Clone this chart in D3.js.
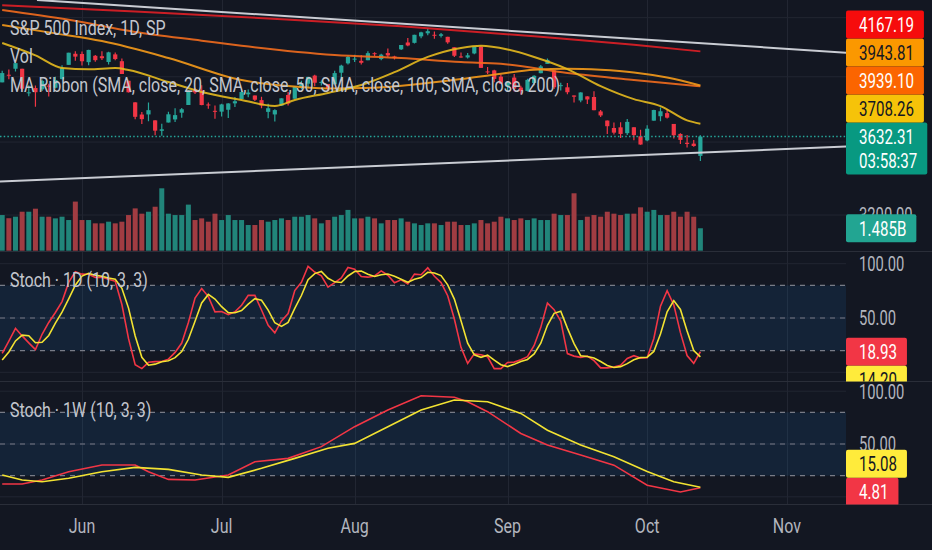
<!DOCTYPE html>
<html><head><meta charset="utf-8">
<script src="https://cdn.jsdelivr.net/npm/d3@7"></script>
<style>html,body{margin:0;padding:0;background:#131722;overflow:hidden}svg{display:block}</style>
</head><body>
<svg id="c" width="932" height="550"></svg>
<script>
// ---------------- DATA (S&P 500, daily, 2022-05-13 .. 2022-10-13) ----------------
const open = [3963.90,4013.02,4052.00,4051.98,3899.00,3927.76,3919.42,3942.94,3929.59,3984.60,
4077.43,4151.09,4149.78,4095.41,4137.57,4134.72,4096.47,4147.12,4101.65,3974.39,
3838.15,3763.52,3764.05,3728.18,3665.90,3715.31,3733.89,3774.71,3821.75,3920.76,
3913.00,3825.09,3785.99,3781.00,3792.61,3831.98,3858.85,3888.26,3880.94,3851.95,
3779.67,3763.99,3818.00,3883.79,3860.73,3935.32,3955.47,4007.59,3965.72,3953.22,
3951.43,4026.13,4087.33,4112.38,4104.21,4107.96,4154.85,4115.87,4155.93,4133.11,
4181.02,4227.40,4225.02,4269.37,4290.46,4280.40,4273.13,4266.31,4195.08,4133.09,
4126.55,4153.26,4198.74,4034.58,4041.25,4000.67,3936.73,3994.66,3930.89,3909.43,
3959.94,4022.94,4083.67,4041.47,3940.73,3932.41,3880.95,3849.91,3875.23,3871.40,
3782.36,3727.14,3682.72,3686.44,3651.94,3687.01,3633.48,3609.78,3726.46,3753.25,
3771.97,3706.74,3647.51,3595.86,3590.83,3520.37];
const high = [4038.88,4046.46,4090.72,4051.98,3945.96,3943.42,3981.88,3955.68,3999.33,4075.14,
4158.49,4168.34,4166.54,4177.51,4142.67,4168.78,4164.86,4160.14,4119.10,3974.39,
3838.15,3778.18,3837.56,3728.18,3707.71,3779.65,3801.79,3802.58,3913.65,3927.72,
3945.86,3836.50,3818.99,3829.82,3832.19,3870.91,3910.63,3918.50,3880.94,3873.41,
3829.44,3796.41,3863.62,3902.44,3939.81,3974.13,3999.29,4012.44,3975.30,3953.22,
4039.56,4078.95,4140.15,4144.95,4140.47,4167.66,4161.29,4151.58,4186.62,4137.30,
4211.03,4257.91,4280.47,4301.79,4325.28,4302.18,4292.53,4266.31,4195.08,4159.77,
4156.56,4200.54,4203.04,4062.99,4044.98,4015.37,3970.23,4018.43,3942.55,3987.89,
4010.50,4076.81,4119.28,4041.47,3961.94,3959.14,3880.95,3900.45,3876.01,3907.07,
3790.68,3727.14,3715.67,3717.53,3736.74,3687.01,3671.44,3698.35,3791.92,3806.91,
3797.93,3706.74,3652.17,3640.66,3611.34,3640.00];
const low = [3963.90,3983.99,4033.93,3911.91,3876.58,3810.32,3909.04,3875.13,3925.03,3984.60,
4077.43,4104.88,4073.85,4074.37,4098.67,4109.18,4080.19,4107.20,4017.17,3900.16,
3734.30,3705.68,3722.30,3639.77,3636.87,3715.31,3717.69,3743.52,3821.75,3889.66,
3820.14,3799.02,3738.67,3752.10,3742.06,3809.37,3858.85,3869.34,3847.22,3802.36,
3741.25,3721.56,3817.18,3818.63,3860.73,3922.03,3927.64,3938.85,3943.46,3910.74,
3951.43,3992.97,4079.22,4096.02,4079.81,4107.96,4135.42,4107.31,4128.97,4112.09,
4177.26,4201.41,4219.78,4256.90,4277.77,4253.08,4261.98,4218.70,4129.86,4124.03,
4119.97,4147.59,4057.66,4017.42,3965.21,3954.53,3903.65,3906.21,3886.75,3906.03,
3944.81,4022.94,4083.67,3921.73,3912.09,3888.28,3837.08,3838.50,3827.54,3789.49,
3749.14,3647.47,3644.76,3623.29,3640.61,3610.40,3584.13,3604.93,3726.46,3722.66,
3739.22,3620.73,3588.10,3568.45,3573.25,3491.58];
const close = [4023.89,4008.01,4088.85,3923.68,3900.79,3901.36,3973.75,3941.48,3978.73,4057.84,
4158.24,4132.15,4101.23,4176.82,4108.54,4121.43,4160.68,4115.77,4017.82,3900.86,
3749.63,3735.48,3789.99,3666.77,3674.84,3764.79,3759.89,3795.73,3911.74,3900.11,
3821.55,3818.83,3785.38,3825.33,3831.39,3845.08,3902.62,3899.38,3854.43,3818.80,
3801.78,3790.38,3863.16,3830.85,3936.69,3959.90,3998.95,3961.63,3966.84,3921.05,
4023.61,4072.43,4130.29,4118.63,4091.19,4155.17,4151.94,4145.19,4140.06,4122.47,
4210.24,4207.27,4280.15,4297.14,4305.20,4274.04,4283.74,4228.48,4137.99,4128.73,
4140.77,4199.12,4057.66,4030.61,3986.16,3955.00,3966.85,3924.26,3908.19,3979.87,
4006.18,4067.36,4110.41,3932.69,3946.01,3901.35,3873.33,3899.89,3855.93,3789.93,
3757.99,3693.23,3655.04,3647.29,3719.04,3640.47,3585.62,3678.43,3790.93,3783.28,
3744.52,3639.66,3612.39,3588.84,3577.03,3632.31];
// volume, billions
const volume = [2.36,2.15,2.25,2.58,2.58,2.78,2.25,2.25,2.14,2.25,
2.03,3.25,2.03,2.03,1.81,1.81,1.92,1.81,1.92,2.36,
2.80,2.45,2.58,2.91,4.13,2.45,2.36,2.36,3.05,2.03,
2.14,1.92,2.45,2.03,2.36,2.03,2.03,1.70,1.70,2.03,
1.92,2.03,2.14,2.03,2.25,2.25,2.36,2.14,1.81,2.03,
2.25,2.36,2.70,2.14,2.14,2.25,2.14,1.81,2.03,2.03,
2.14,1.92,1.81,1.70,1.81,1.81,1.70,1.92,1.92,1.70,
1.70,1.81,2.03,1.81,1.92,2.25,2.14,2.03,2.14,2.03,
2.14,2.03,2.03,2.45,2.36,2.36,3.80,2.03,2.25,2.36,
2.25,2.58,2.45,2.36,2.45,2.45,2.87,2.58,2.70,2.36,
2.36,2.58,2.25,2.58,2.25,1.485];
// MA Ribbon, [bar index, value]
const ma20 = [[0,4224],[5,4140],[9,4057],[13,4048],[17,4057],[19,4044],[25,3966],[30,3903],[36,3853],[41,3816],[44,3853],[49,3897],[54,3947],[59,4030],[64,4130],[69,4190],[72,4205],[76,4180],[80,4130],[85,4050],[90,3940],[95,3858],[99,3815],[103,3728],[105,3708.26]];
const ma50 = [[0,4348],[8,4290],[15,4237],[25,4123],[36,3979],[43,3940],[49,3925],[56,3930],[63,3955],[69,3985],[75,4020],[80,4045],[85,4052],[90,4045],[95,4028],[100,3995],[105,3943.81]];
const ma100 = [[0,4455],[10,4385],[20,4300],[30,4240],[36,4205],[50,4143],[60,4123],[69,4096],[75,4085],[85,4024],[95,3979],[105,3939.10]];
const ma200 = [[0,4490],[20,4445],[40,4395],[60,4340],[80,4270],[95,4212],[105,4167.19]];
// Stoch 1D (10,3,3) per bar
const stochK = [17.5,28.7,40.5,33.5,27.1,20.9,35.0,45.9,55.1,65.1,
82.8,92.7,90.4,90.3,87.4,87.5,85.7,83.8,62.4,31.0,
7.0,3.4,9.2,9.8,10.0,12.1,18.3,26.9,45.9,68.3,
77.2,69.7,55.6,56.0,53.1,55.7,61.7,70.8,70.9,57.4,
43.2,36.3,47.3,54.1,75.3,82.8,97.6,92.3,88.9,78.5,
82.6,87.0,96.5,95.0,88.2,87.6,88.7,93.4,89.4,82.4,
85.1,81.3,90.4,89.8,96.2,88.4,82.6,70.5,49.1,23.0,
8.2,17.0,16.2,14.3,3.4,3.4,9.0,9.4,11.6,14.4,
24.7,41.4,63.7,57.7,47.2,17.2,14.9,13.8,14.9,10.7,
4.1,4.1,4.9,6.5,12.7,15.3,13.1,13.4,31.2,60.9,
75.1,62.1,36.5,15.4,8.3,18.93];
const stochD = [11.3,18.7,28.9,34.2,33.7,27.2,27.7,33.9,45.3,55.4,
67.7,80.2,88.6,91.1,89.4,88.4,86.9,85.7,77.3,59.1,
33.5,13.8,6.5,7.5,9.7,10.6,13.5,19.1,30.4,47.0,
63.8,71.7,67.5,60.4,54.9,54.9,56.8,62.7,67.8,66.4,
57.2,45.6,42.3,45.9,58.9,70.7,85.2,90.9,92.9,86.6,
83.3,82.7,88.7,92.8,93.2,90.3,88.2,89.9,90.5,88.4,
85.6,82.9,85.6,87.2,92.1,91.5,89.1,80.5,67.4,47.5,
26.8,16.1,13.8,15.8,11.3,7.0,5.3,7.3,10.0,11.8,
16.9,26.8,43.3,54.3,56.2,40.7,26.4,15.3,14.5,13.1,
9.9,6.3,4.4,5.2,8.0,11.5,13.7,13.9,19.2,35.2,
55.7,66.0,57.9,38.0,20.1,14.20];
// Stoch 1W (10,3,3) as plotted on the daily bars, [bar index, value]
const weekK = [[0,12.1],[3,12.1],[6,15.9],[10,23.8],[15,30.1],[20,30.1],[22,23.8],[25,16.5],[29,15.9],[34,20.6],[38,33.2],[43,36.4],[48,47.5],[53,66.4],[58,82.2],[63,95.7],[68,94.2],[70,90],[73,80.6],[78,60],[82,49],[87,39.5],[92,30],[97,11],[102,4.5],[105,8.5]];
const weekD = [[0,20.6],[3,15.9],[6,14.3],[10,17.5],[15,23.8],[20,27.9],[25,26],[30,20.6],[34,18.4],[39,27],[44,36.4],[49,45.9],[53,50.6],[58,66.4],[63,82.2],[68,91.6],[73,90],[78,79],[82,63],[87,49],[92,38],[97,24],[101,14.3],[105,9]];
const weekLast = [4.81, 15.08]; // %K, %D
// Drawn trendlines, [bar index, price]
const trendTop = [[5.23,4527.6],[126.9,4158.3]];
const trendBottom = [[-0.33,3378],[126.9,3574.3]];
// Axis ticks
const monthLabels = ["Jun","Jul","Aug","Sep","Oct","Nov"];
const monthBar = [12,33,53,76,97,118];
const priceTicks = [3200,3600,4000,4400];
const stochTicks = [0,50,100];
const stochBands = [80,50,20];
const countdown = "03:58:37";

// ---------------- LAYOUT ----------------
const W = 932, H = 550, PR = 846;
const main = [0, 251.5], p1 = [252, 381.5], p2 = [382, 504.5];
const FONT = 'Roboto, "Noto Sans", "DejaVu Sans", sans-serif';
const SXT = 0.8, SXN = 0.72;
const UP = '#26a69a', DN = '#f23645';

const x = d3.scaleLinear().domain([-0.33, 126.9]).range([0, PR]);
const y = d3.scaleLog().domain([3491.58, 4325.28]).range([161, 28.3]);
const yv = d3.scaleLinear().domain([0, 4.13]).range([250.7, 188.3]);
const ys1 = d3.scaleLinear().domain([0, 100]).range([372.3, 263.7]);
const ys2 = d3.scaleLinear().domain([0, 100]).range([496.8, 391.2]);

const svg = d3.select('#c');
svg.append('rect').attr('width', W).attr('height', H).attr('fill', '#131722');
const defs = svg.append('defs');
function clip(id, x0, y0, w, h) {
  defs.append('clipPath').attr('id', id).append('rect').attr('x', x0).attr('y', y0).attr('width', w).attr('height', h);
  return `url(#${id})`;
}
function txt(g, px, py, s, o = {}) {
  return g.append('text')
    .attr('transform', `translate(${px},${py}) scale(${o.sx || SXT},1)`)
    .attr('text-anchor', o.anchor || 'start')
    .attr('dy', o.dy || '0.36em')
    .attr('font-family', FONT)
    .attr('font-size', o.size || 20)
    .attr('fill', o.fill || '#b2b5be')
    .text(s);
}

// grid
const grid = svg.append('g').attr('stroke', '#222632').attr('stroke-width', 1);
monthBar.forEach(b => grid.append('line').attr('x1', Math.round(x(b)) + 0.5).attr('x2', Math.round(x(b)) + 0.5).attr('y1', 0).attr('y2', p2[1]));
const gGridMain = grid.append('g').attr('clip-path', clip('cm0', 0, main[0], PR, main[1] - main[0]));
priceTicks.forEach(t => gGridMain.append('line').attr('x1', 0).attr('x2', PR).attr('y1', y(t)).attr('y2', y(t)));
stochTicks.forEach(t => {
  grid.append('line').attr('x1', 0).attr('x2', PR).attr('y1', ys1(t)).attr('y2', ys1(t));
  grid.append('line').attr('x1', 0).attr('x2', PR).attr('y1', ys2(t)).attr('y2', ys2(t));
});

// pane separators
[main[1], p1[1], p2[1]].forEach(v => svg.append('line').attr('x1', 0).attr('x2', W).attr('y1', v).attr('y2', v).attr('stroke', '#2a2e39').attr('stroke-width', 1));

// ---------------- MAIN PANE ----------------
const gMain = svg.append('g').attr('clip-path', clip('cm', 0, main[0], PR, main[1] - main[0]));
const idx = d3.range(close.length);
const bw = 4.2, vw = 5;
// volume
gMain.append('g').selectAll('rect').data(idx).join('rect')
  .attr('x', i => x(i) - vw / 2).attr('width', vw)
  .attr('y', i => yv(volume[i])).attr('height', i => yv(0) - yv(volume[i]))
  .attr('fill', i => close[i] >= open[i] ? '#21857a' : '#a13c42');
// candles
const gc = gMain.append('g');
gc.selectAll('line').data(idx).join('line')
  .attr('x1', i => x(i)).attr('x2', i => x(i))
  .attr('y1', i => y(high[i])).attr('y2', i => y(low[i]))
  .attr('stroke', i => close[i] >= open[i] ? UP : DN).attr('stroke-width', 1.2);
gc.selectAll('rect').data(idx).join('rect')
  .attr('x', i => x(i) - bw / 2).attr('width', bw)
  .attr('y', i => y(Math.max(open[i], close[i])))
  .attr('height', i => Math.max(1, Math.abs(y(open[i]) - y(close[i]))))
  .attr('fill', i => close[i] >= open[i] ? UP : DN);
// MA ribbon
const maLine = d3.line().x(d => x(d[0])).y(d => y(d[1])).curve(d3.curveMonotoneX);
const maSeries = [[ma200, '#e01f26'], [ma100, '#f26b1d'], [ma50, '#f59a1a'], [ma20, '#e6b91e']];
maSeries.forEach(([d, c]) => gMain.append('path').attr('d', maLine(d)).attr('fill', 'none').attr('stroke', c).attr('stroke-width', 2).attr('stroke-opacity', 0.9));
// trendlines
const tl = d3.line().x(d => x(d[0])).y(d => y(d[1]));
[trendTop, trendBottom].forEach(d => gMain.append('path').attr('d', tl(d)).attr('fill', 'none').attr('stroke', '#c9ccd3').attr('stroke-width', 2));
// price line
const lastP = close[close.length - 1];
gMain.append('line').attr('x1', 0).attr('x2', PR).attr('y1', y(lastP)).attr('y2', y(lastP))
  .attr('stroke', UP).attr('stroke-width', 1.5).attr('stroke-dasharray', '1.5,2.2');
// legend
const gLeg = svg.append('g');
txt(gLeg, 10, 28, 'S&P 500 Index, 1D, SP', { fill: '#c3c6ce' });
txt(gLeg, 10, 56, 'Vol', { fill: '#c3c6ce' });
txt(gLeg, 10, 84.5, 'MA Ribbon (SMA, close, 20, SMA, close, 50, SMA, close, 100, SMA, close, 200)', { fill: '#c3c6ce' });

// ---------------- STOCH PANES ----------------
function stochPane(id, pane, ys, kData, dData, title, perBar) {
  const g = svg.append('g').attr('clip-path', clip(id, 0, pane[0], PR, pane[1] - pane[0]));
  g.append('rect').attr('x', 0).attr('width', PR).attr('y', ys(80)).attr('height', ys(20) - ys(80)).attr('fill', 'rgba(33,150,243,0.1)');
  stochBands.forEach(b => g.append('line').attr('x1', 0).attr('x2', PR).attr('y1', ys(b)).attr('y2', ys(b))
    .attr('stroke', '#787b86').attr('stroke-width', 1.2).attr('stroke-dasharray', '5,5'));
  const ln = perBar ? d3.line().x((d, i) => x(i)).y(d => ys(d)) : d3.line().x(d => x(d[0])).y(d => ys(d[1]));
  g.append('path').attr('d', ln(kData)).attr('fill', 'none').attr('stroke', '#f23645').attr('stroke-width', 1.6);
  g.append('path').attr('d', ln(dData)).attr('fill', 'none').attr('stroke', '#f2e232').attr('stroke-width', 1.6);
  txt(svg, 10, pane[0] + 28, title, { fill: '#c3c6ce' });
}
stochPane('cs1', p1, ys1, stochK, stochD, 'Stoch · 1D (10, 3, 3)', true);
stochPane('cs2', p2, ys2, weekK, weekD, 'Stoch · 1W (10, 3, 3)', false);

// ---------------- TIME AXIS ----------------
monthLabels.forEach((m, i) => txt(svg, x(monthBar[i]), 526, m, { anchor: 'middle', fill: '#b2b5be' }));

// ---------------- PRICE SCALE ----------------
const gAx = svg.append('g');
const axMain = gAx.append('g').attr('clip-path', clip('am', PR, main[0], W - PR, main[1] - main[0]));
const ax1 = gAx.append('g').attr('clip-path', clip('a1', PR, p1[0], W - PR, p1[1] - p1[0]));
const ax2 = gAx.append('g').attr('clip-path', clip('a2', PR, p2[0], W - PR, p2[1] - p2[0]));

function placeLabels(items, anchor) {
  items.forEach(d => d.top = d.y - d.off);
  const a = items[anchor];
  let lim = a.top;
  items.filter((d, i) => i !== anchor && d.y < a.y).sort((p, q) => q.y - p.y)
    .forEach(d => { if (d.top + d.h > lim) d.top = lim - d.h; lim = d.top; });
  lim = a.top + a.h;
  items.filter((d, i) => i !== anchor && d.y >= a.y).sort((p, q) => p.y - q.y)
    .forEach(d => { if (d.top < lim) d.top = lim; lim = d.top + d.h; });
}
function drawLabels(g, items) {
  items.forEach(d => {
    const box = g.append('rect').attr('x', PR).attr('y', d.top).attr('height', d.h).attr('rx', 2).attr('fill', d.bg);
    let wmax = 0;
    d.lines.forEach((s, k) => {
      const t = txt(g, 859, d.top + d.off + k * 24, s, { sx: SXN, size: 21, fill: d.fg });
      wmax = Math.max(wmax, t.node().getComputedTextLength() * SXN);
    });
    box.attr('width', 13 + wmax + 10);
  });
}
// tick labels that would sit entirely behind a value label are not drawn
function ticks(g, vals, scale, boxes) {
  vals.forEach(t => {
    const ty = scale(t);
    const hidden = boxes.some(b => ty > b.top + 5 && ty < b.top + b.h - 5);
    if (!hidden) txt(g, 859, ty, t.toFixed(2), { sx: SXN, size: 20.5 });
  });
}
const H1 = 28;
const lm = [
  { y: y(lastP), off: 14, h: 52, lines: [lastP.toFixed(2), countdown], bg: '#089981', fg: '#ffffff' },
  { y: y(ma20[ma20.length - 1][1]), off: H1 / 2, h: H1, lines: [ma20[ma20.length - 1][1].toFixed(2)], bg: '#f6c309', fg: '#131722' },
  { y: y(ma50[ma50.length - 1][1]), off: H1 / 2, h: H1, lines: [ma50[ma50.length - 1][1].toFixed(2)], bg: '#fb9800', fg: '#131722' },
  { y: y(ma100[ma100.length - 1][1]), off: H1 / 2, h: H1, lines: [ma100[ma100.length - 1][1].toFixed(2)], bg: '#fb6500', fg: '#ffffff' },
  { y: y(ma200[ma200.length - 1][1]), off: H1 / 2, h: H1, lines: [ma200[ma200.length - 1][1].toFixed(2)], bg: '#f60c0c', fg: '#ffffff' }
];
placeLabels(lm, 0);
const vLast = volume[volume.length - 1];
lm.push({ y: yv(vLast), off: H1 / 2, h: H1, top: yv(vLast) - H1 / 2, lines: [vLast.toFixed(3) + 'B'], bg: '#22a592', fg: '#ffffff' });

const kL = stochK[stochK.length - 1], dL = stochD[stochD.length - 1];
const l1 = [
  { y: ys1(kL), off: H1 / 2, h: H1, lines: [kL.toFixed(2)], bg: '#f23645', fg: '#ffffff' },
  { y: ys1(dL), off: H1 / 2, h: H1, lines: [dL.toFixed(2)], bg: '#ffeb3b', fg: '#131722' }
];
placeLabels(l1, 0);
const l2 = [
  { y: ys2(weekLast[0]), off: H1 / 2, h: H1, lines: [weekLast[0].toFixed(2)], bg: '#f23645', fg: '#ffffff' },
  { y: ys2(weekLast[1]), off: H1 / 2, h: H1, lines: [weekLast[1].toFixed(2)], bg: '#ffeb3b', fg: '#131722' }
];
placeLabels(l2, 0);

ticks(axMain, priceTicks, y, lm);
ticks(ax1, stochTicks, ys1, l1);
ticks(ax2, stochTicks, ys2, l2);
drawLabels(axMain, lm);
drawLabels(ax1, l1);
drawLabels(ax2, l2);
</script>
</body></html>
